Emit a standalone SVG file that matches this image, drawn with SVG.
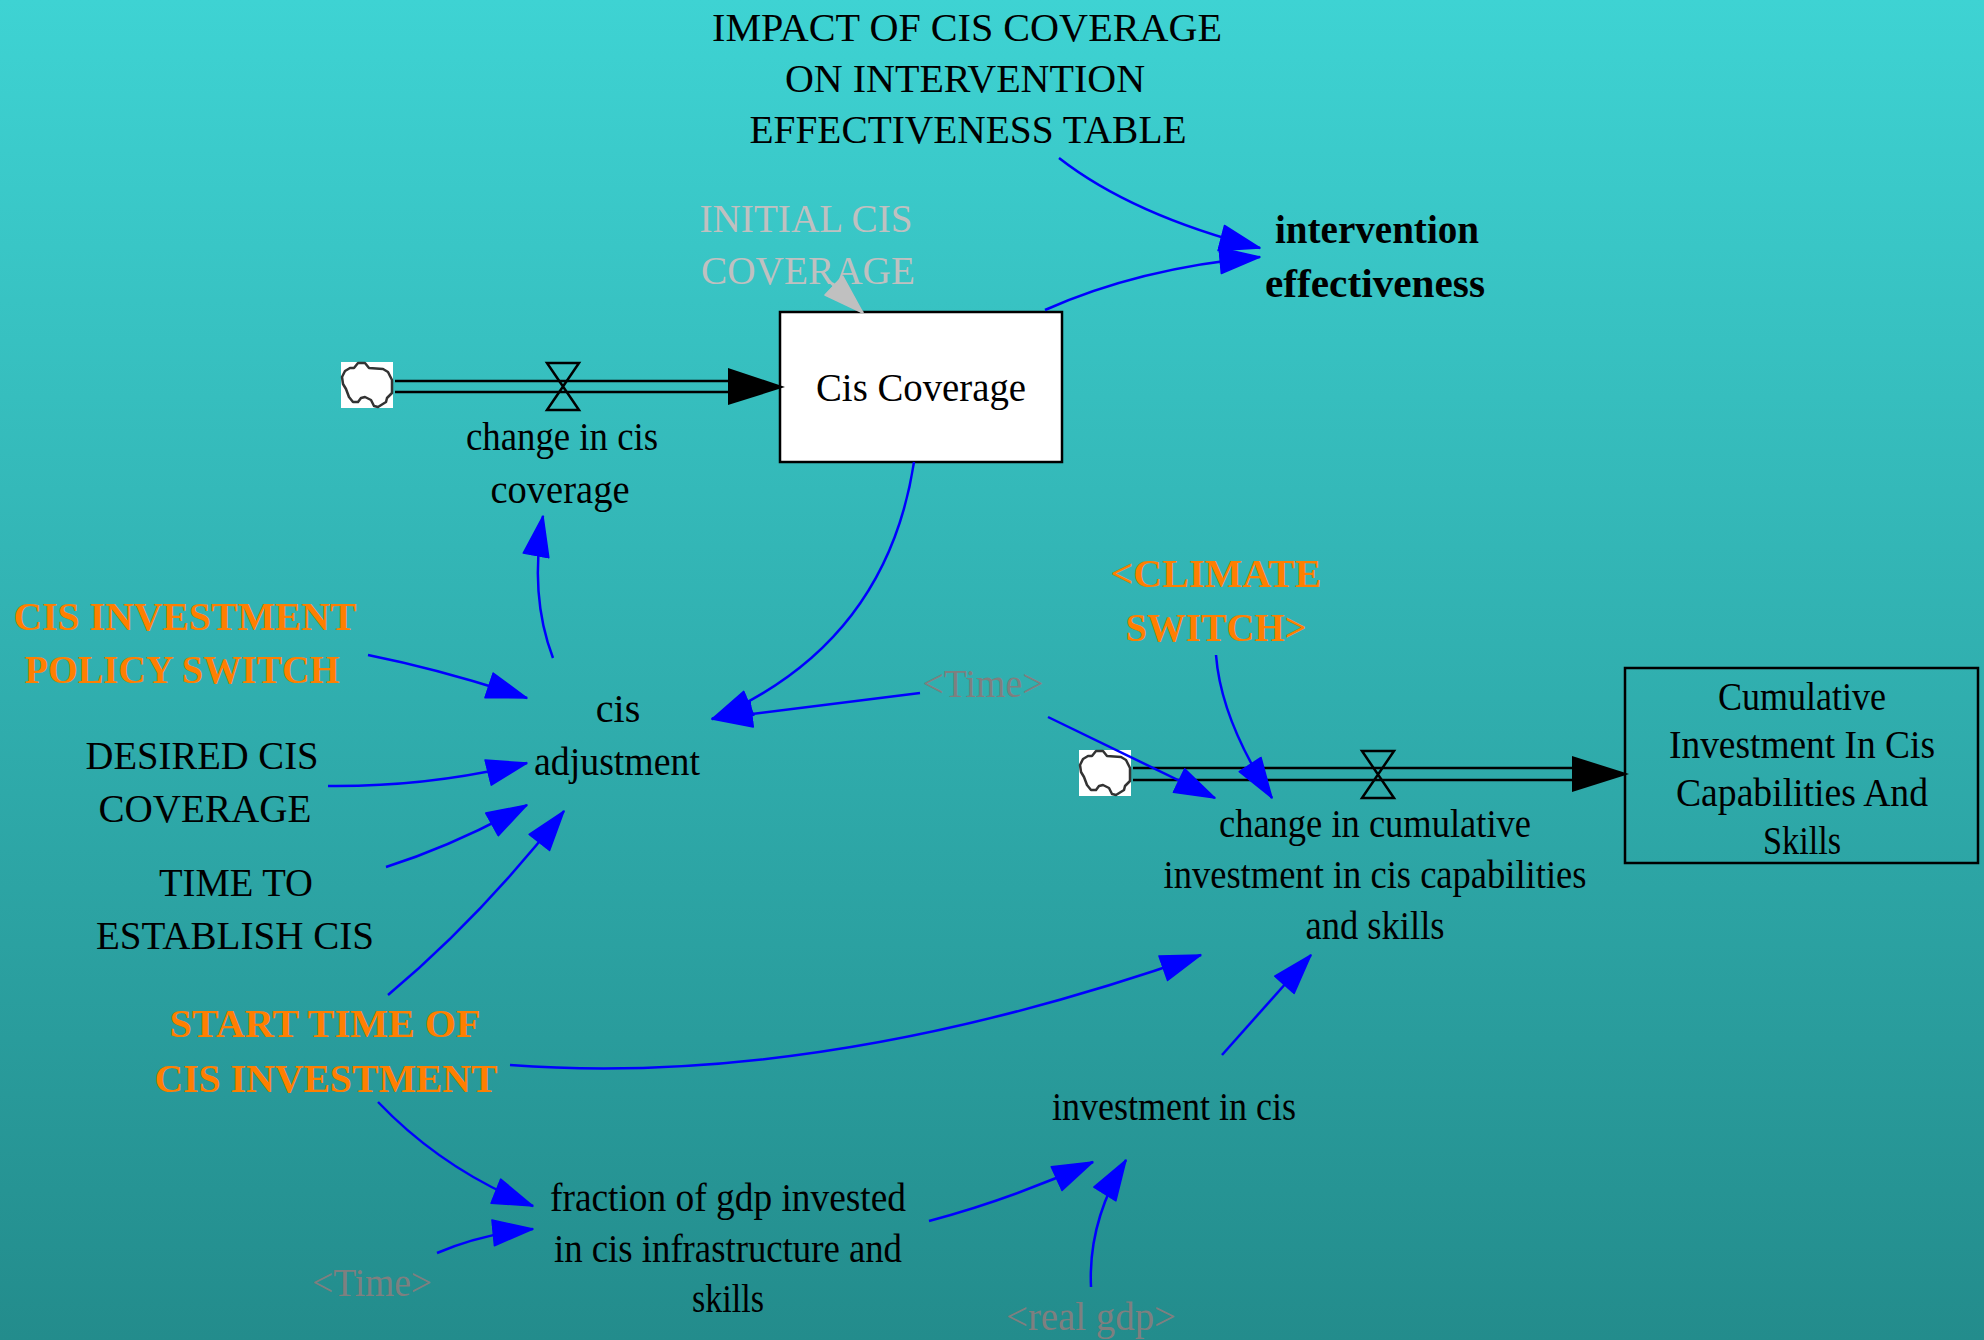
<svg xmlns="http://www.w3.org/2000/svg" width="1984" height="1340" viewBox="0 0 1984 1340">
<style>
text{font-family:"Liberation Serif","Times New Roman",serif;font-size:40px;text-anchor:middle;fill:#000}
.b{font-weight:bold}
.o{font-weight:bold;fill:#ff7f00}
.g{fill:#c0c0c0}
.s{fill:#7f7f7f}
.c{fill:none;stroke:#0000ff;stroke-width:2.5}
.p{fill:none;stroke:#000;stroke-width:2.5}
</style>
<defs>
<linearGradient id="bg" x1="0" y1="0" x2="0" y2="1"><stop offset="0" stop-color="#3ed3d3"/><stop offset="1" stop-color="#238c8c"/></linearGradient>
<marker id="ab" markerUnits="userSpaceOnUse" markerWidth="44" markerHeight="32" refX="41" refY="15" orient="auto"><path d="M1 2L41 15L1 28Z" fill="#0000ff" stroke="#0000ff" stroke-width="1.5" stroke-linejoin="round"/></marker>
<marker id="ag" markerUnits="userSpaceOnUse" markerWidth="44" markerHeight="32" refX="41" refY="15" orient="auto"><path d="M1 2L41 15L1 28Z" fill="#c0c0c0" stroke="#c0c0c0" stroke-width="1.5" stroke-linejoin="round"/></marker>
<g id="cloud"><rect width="52" height="46" fill="#fff"/><path d="M1 15L4 9L9 6L13 6L17 1L24 1L28 6L42 7L47 10L51 18L51 31L46 36L45 40L37 45L33 44L30 38L24 35L20 36L17 40L12 40L8 35L5 27L2 22Z" fill="#fff" stroke="#333" stroke-width="2.5" stroke-linejoin="round"/></g>
<path id="valve" d="M0 0H32L0 47H32Z" fill="none" stroke="#000" stroke-width="2.5"/>
</defs>
<rect id="background" width="1984" height="1340" fill="url(#bg)"/>
<g id="node-cis-coverage"><rect x="780" y="312" width="282" height="150" fill="#fff" stroke="#000" stroke-width="2.5"/><text x="921" y="401" textLength="210" lengthAdjust="spacingAndGlyphs">Cis Coverage</text></g>
<g id="node-cumulative"><rect x="1625" y="668" width="353" height="195" fill="none" stroke="#000" stroke-width="2.5"/><text x="1802" y="710" textLength="168" lengthAdjust="spacingAndGlyphs">Cumulative</text><text x="1802" y="758" textLength="266" lengthAdjust="spacingAndGlyphs">Investment In Cis</text><text x="1802" y="806" textLength="252" lengthAdjust="spacingAndGlyphs">Capabilities And</text><text x="1802" y="854" textLength="78" lengthAdjust="spacingAndGlyphs">Skills</text></g>
<g id="flow-pipes">
<use href="#cloud" x="341" y="362"/>
<path class="p" d="M395 381H730M395 392H730"/><path d="M728 368L785 387L728 405Z"/>
<use href="#valve" x="547" y="363"/>
<use href="#cloud" x="1079" y="750"/>
<path class="p" d="M1133 768H1574M1133 780H1574"/><path d="M1572 756L1629 774L1572 792Z"/>
<use href="#valve" x="1362" y="751"/>
</g>
<g id="connectors">
<path class="c" marker-end="url(#ab)" d="M1059 158Q1132 215 1260 248"/>
<path class="c" marker-end="url(#ab)" d="M1045 310Q1139 268 1260 257"/>
<path fill="none" stroke="#c0c0c0" stroke-width="2.5" marker-end="url(#ag)" d="M829 281L863 313"/>
<path class="c" marker-end="url(#ab)" d="M914 462Q886 645 712 719"/>
<path class="c" marker-end="url(#ab)" d="M553 658Q529 595 543 516"/>
<path class="c" marker-end="url(#ab)" d="M368 655Q443 670 527 698"/>
<path class="c" marker-end="url(#ab)" d="M328 786Q430 787 527 763"/>
<path class="c" marker-end="url(#ab)" d="M386 867Q455 845 527 805"/>
<path class="c" marker-end="url(#ab)" d="M388 995Q481 917 564 811"/>
<path class="c" marker-end="url(#ab)" d="M510 1065Q822 1088 1201 955"/>
<path class="c" marker-end="url(#ab)" d="M378 1102Q443 1170 533 1206"/>
<path class="c" marker-end="url(#ab)" d="M437 1253Q481 1234 533 1229"/>
<path class="c" marker-end="url(#ab)" d="M929 1221Q1012 1199 1093 1162"/>
<path class="c" marker-end="url(#ab)" d="M1091 1287Q1088 1221 1126 1160"/>
<path class="c" marker-end="url(#ab)" d="M1222 1055L1311 955"/>
<path class="c" marker-end="url(#ab)" d="M920 693L712 719"/>
<path class="c" marker-end="url(#ab)" d="M1048 717L1215 798"/>
<path class="c" marker-end="url(#ab)" d="M1216 655Q1221 720 1272 798"/>
</g>
<g id="node-impact"><text x="967" y="41" textLength="510" lengthAdjust="spacingAndGlyphs">IMPACT OF CIS COVERAGE</text><text x="965" y="92">ON INTERVENTION</text><text x="968" y="143" textLength="437" lengthAdjust="spacingAndGlyphs">EFFECTIVENESS TABLE</text></g>
<g id="node-intervention"><text class="b" x="1377" y="243" textLength="204" lengthAdjust="spacingAndGlyphs">intervention</text><text class="b" x="1375" y="297" textLength="220" lengthAdjust="spacingAndGlyphs">effectiveness</text></g>
<g id="node-initial"><text class="g" x="806" y="232" textLength="213" lengthAdjust="spacingAndGlyphs">INITIAL CIS</text><text class="g" x="808" y="284" textLength="214" lengthAdjust="spacingAndGlyphs">COVERAGE</text></g>
<g id="node-change-cis"><text x="562" y="450" textLength="192" lengthAdjust="spacingAndGlyphs">change in cis</text><text x="560" y="503" textLength="139" lengthAdjust="spacingAndGlyphs">coverage</text></g>
<g id="node-switch"><text class="o" x="185" y="630" textLength="343" lengthAdjust="spacingAndGlyphs">CIS INVESTMENT</text><text class="o" x="182" y="683" textLength="315" lengthAdjust="spacingAndGlyphs">POLICY SWITCH</text></g>
<g id="node-adjustment"><text x="618" y="722">cis</text><text x="617" y="775" textLength="166" lengthAdjust="spacingAndGlyphs">adjustment</text></g>
<g id="node-desired"><text x="202" y="769" textLength="233" lengthAdjust="spacingAndGlyphs">DESIRED CIS</text><text x="205" y="822" textLength="213" lengthAdjust="spacingAndGlyphs">COVERAGE</text></g>
<g id="node-time-to"><text x="236" y="896" textLength="154" lengthAdjust="spacingAndGlyphs">TIME TO</text><text x="235" y="949" textLength="278" lengthAdjust="spacingAndGlyphs">ESTABLISH CIS</text></g>
<g id="node-start"><text class="o" x="325" y="1037" textLength="311" lengthAdjust="spacingAndGlyphs">START TIME OF</text><text class="o" x="326" y="1092" textLength="343" lengthAdjust="spacingAndGlyphs">CIS INVESTMENT</text></g>
<g id="node-time-1"><text class="s" x="983" y="697" textLength="121" lengthAdjust="spacingAndGlyphs">&lt;Time&gt;</text></g>
<g id="node-climate"><text class="o" x="1216" y="587">&lt;CLIMATE</text><text class="o" x="1216" y="641" textLength="181" lengthAdjust="spacingAndGlyphs">SWITCH&gt;</text></g>
<g id="node-change-cum"><text x="1375" y="837" textLength="312" lengthAdjust="spacingAndGlyphs">change in cumulative</text><text x="1375" y="888" textLength="423" lengthAdjust="spacingAndGlyphs">investment in cis capabilities</text><text x="1375" y="939" textLength="139" lengthAdjust="spacingAndGlyphs">and skills</text></g>
<g id="node-investment"><text x="1174" y="1120" textLength="244" lengthAdjust="spacingAndGlyphs">investment in cis</text></g>
<g id="node-fraction"><text x="728" y="1211" textLength="356" lengthAdjust="spacingAndGlyphs">fraction of gdp invested</text><text x="728" y="1262" textLength="348" lengthAdjust="spacingAndGlyphs">in cis infrastructure and</text><text x="728" y="1312" textLength="72" lengthAdjust="spacingAndGlyphs">skills</text></g>
<g id="node-time-2"><text class="s" x="372" y="1296" textLength="120" lengthAdjust="spacingAndGlyphs">&lt;Time&gt;</text></g>
<g id="node-real-gdp"><text class="s" x="1091" y="1330" textLength="170" lengthAdjust="spacingAndGlyphs">&lt;real gdp&gt;</text></g>
</svg>
